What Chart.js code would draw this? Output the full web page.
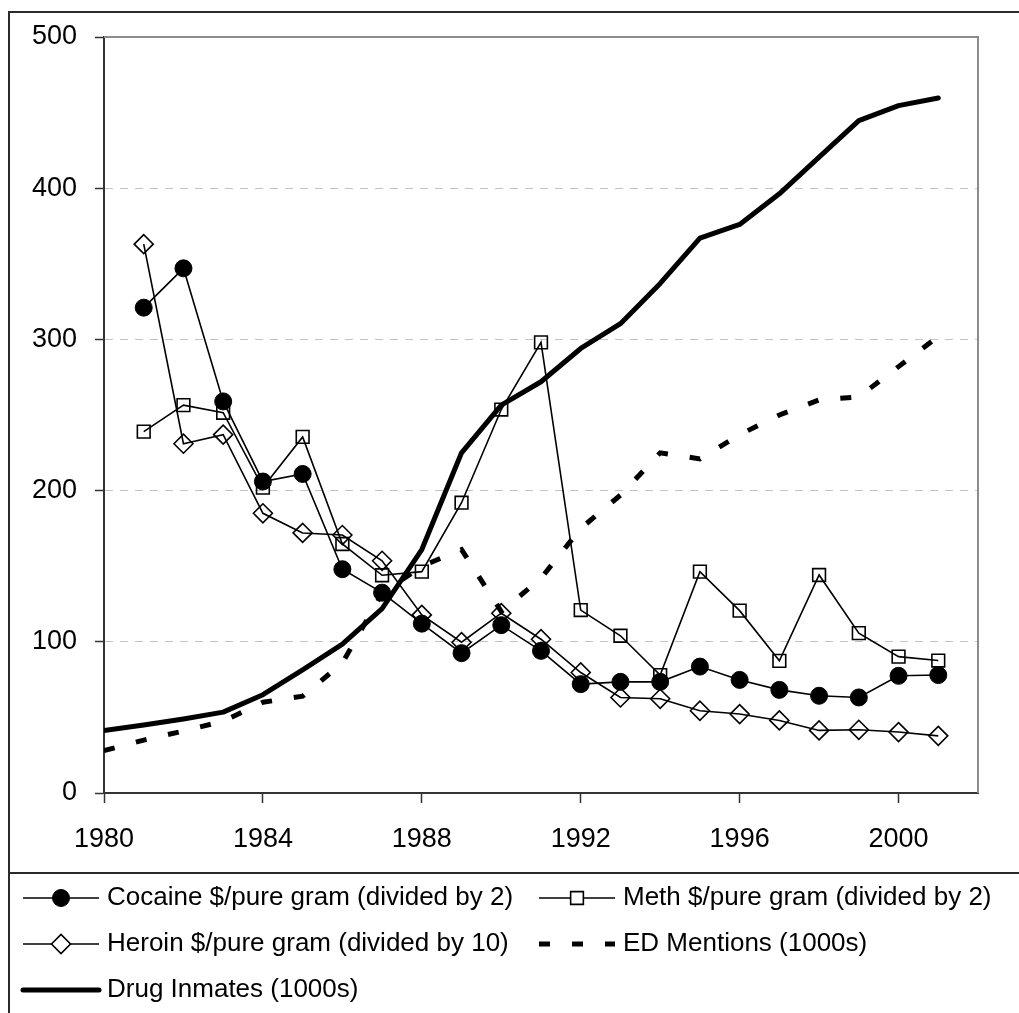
<!DOCTYPE html>
<html>
<head>
<meta charset="utf-8">
<title>Drug prices, ED mentions and inmates</title>
<script src="https://cdn.jsdelivr.net/npm/chart.js@4.4.1/dist/chart.umd.min.js"></script>
<style>
  html, body { margin: 0; padding: 0; background: #fff; }
  #wrap { width: 1019px; height: 1013px; position: relative; }
</style>
</head>
<body>
<div id="wrap"><canvas id="chart"></canvas></div>
<script>
// values
const years = [1980, 1981, 1982, 1983, 1984, 1985, 1986, 1987, 1988, 1989, 1990,
               1991, 1992, 1993, 1994, 1995, 1996, 1997, 1998, 1999, 2000, 2001];
const cocaine = [null, 321, 347, 259, 206, 211, 148, 132.5, 112, 92.5, 111,
                 94, 72, 73.5, 73.5, 83.6, 74.8, 68.2, 64.3, 63.2, 77.5, 78];
const meth = [null, 239, 256.5, 251.5, 202, 235.5, 164.7, 144, 146.4, 192, 253.6,
              298, 121, 104, 78, 146.4, 120.6, 87.4, 144.2, 105.7, 90.2, 87.6];
const heroin = [null, 363, 231, 237, 185, 172, 170.6, 153.6, 117.8, 99.7, 118.9,
                101.7, 79.7, 63.2, 62.3, 54.4, 52.2, 48, 41.4, 41.8, 40.3, 37.8];
const edMentions = [28, 35, 41, 47.5, 60, 64, 86, 132, 150, 161, 120,
                    142, 175, 197, 225, 221, 237, 250, 260, 262, 282, 302];
const inmates = [41.4, 45, 49, 53.5, 65, 81.4, 98.4, 122, 161, 225, 256.5,
                 272, 294, 310.4, 337, 367, 376, 396.3, 420.5, 444.7, 454.6, 459.7];
const xTickYears = [1980, 1984, 1988, 1992, 1996, 2000];

const FONT = '"Liberation Sans", Arial, sans-serif';

function toPoints(values) {
    return years.map((yr, i) => ({ x: yr, y: values[i] }));
}

// marker drawing used by the legend (same shapes as the plot)
function drawMarker(ctx, ds, x, y) {
    const r = ds.pointRadius;
    ctx.lineWidth = ds.pointBorderWidth;
    ctx.strokeStyle = ds.pointBorderColor;
    ctx.fillStyle = ds.pointStyle === 'circle' ? ds.pointBackgroundColor : '#fff';
    ctx.beginPath();
    if (ds.pointStyle === 'circle') {
        ctx.arc(x, y, r, 0, Math.PI * 2);
    } else if (ds.pointStyle === 'rect') {
        const s = r * Math.SQRT1_2;
        ctx.rect(x - s, y - s, 2 * s, 2 * s);
    } else {
        ctx.moveTo(x - r, y);
        ctx.lineTo(x, y - r);
        ctx.lineTo(x + r, y);
        ctx.lineTo(x, y + r);
        ctx.closePath();
    }
    ctx.fill();
    ctx.stroke();
}

// frame, plot border and the two-column legend box
const framePlugin = {
    id: 'frame',
    beforeDatasetsDraw(chart) {
        const { ctx, chartArea: a } = chart;
        ctx.save();
        ctx.strokeStyle = '#8c8c8c';
        ctx.lineWidth = 2;
        ctx.beginPath();
        ctx.moveTo(a.left, a.top);
        ctx.lineTo(a.right, a.top);
        ctx.lineTo(a.right, a.bottom);
        ctx.stroke();
        ctx.restore();
    },
    afterDraw(chart) {
        const ctx = chart.ctx;
        ctx.save();
        ctx.strokeStyle = '#2b2b2b';
        ctx.lineWidth = 2;
        ctx.beginPath();
        ctx.moveTo(1019, 12);
        ctx.lineTo(9, 12);
        ctx.lineTo(9, 1013);
        ctx.moveTo(9, 873);
        ctx.lineTo(1019, 873);
        ctx.stroke();

        const slots = [[23, 898], [539, 898], [23, 944], [539, 944], [23, 990]];
        chart.data.datasets.forEach((ds, i) => {
            const [x, y] = slots[i];
            ctx.save();
            ctx.strokeStyle = ds.borderColor;
            ctx.lineWidth = ds.borderWidth;
            ctx.lineCap = ds.borderCapStyle || 'butt';
            ctx.setLineDash(ds.borderDash || []);
            ctx.beginPath();
            ctx.moveTo(x, y);
            ctx.lineTo(x + 76, y);
            ctx.stroke();
            ctx.setLineDash([]);
            if (ds.pointRadius > 0) drawMarker(ctx, ds, x + 38, y);
            ctx.fillStyle = '#000';
            ctx.font = '26px ' + FONT;
            ctx.textBaseline = 'middle';
            ctx.textAlign = 'left';
            ctx.fillText(ds.label, x + 84, y);
            ctx.restore();
        });
        ctx.restore();
    }
};

const thin = {
    borderColor: '#000',
    borderWidth: 1.6,
    pointBorderColor: '#000',
    pointBorderWidth: 1.6,
    pointBackgroundColor: 'rgba(0,0,0,0)',
    tension: 0,
    spanGaps: false,
};

new Chart(document.getElementById('chart'), {
    type: 'line',
    data: {
        datasets: [
            {
                ...thin,
                label: 'Cocaine $/pure gram (divided by 2)',
                data: toPoints(cocaine),
                pointStyle: 'circle',
                pointRadius: 8.5,
                pointBorderWidth: 1,
                pointBackgroundColor: '#000',
            },
            {
                ...thin,
                label: 'Meth $/pure gram (divided by 2)',
                data: toPoints(meth),
                pointStyle: 'rect',
                pointRadius: 9,
            },
            {
                ...thin,
                label: 'Heroin $/pure gram (divided by 10)',
                data: toPoints(heroin),
                pointStyle: 'rectRot',
                pointRadius: 9.5,
            },
            {
                label: 'ED Mentions (1000s)',
                data: toPoints(edMentions),
                borderColor: '#000',
                borderWidth: 5,
                borderDash: [11, 22],
                borderCapStyle: 'butt',
                pointRadius: 0,
                tension: 0,
            },
            {
                label: 'Drug Inmates (1000s)',
                data: toPoints(inmates),
                borderColor: '#000',
                borderWidth: 5,
                borderCapStyle: 'round',
                borderJoinStyle: 'round',
                pointRadius: 0,
                tension: 0,
            },
        ],
    },
    options: {
        responsive: true,
        maintainAspectRatio: false,
        animation: false,
        events: [],
        layout: { padding: { left: 0, top: 37, right: 41, bottom: 0 } },
        plugins: {
            legend: { display: false },
            tooltip: { enabled: false },
        },
        scales: {
            x: {
                type: 'linear',
                min: 1980,
                max: 2002,
                afterBuildTicks: (scale) => {
                    scale.ticks = xTickYears.map(v => ({ value: v }));
                },
                afterFit: (scale) => { scale.height = 220; },
                grid: {
                    drawOnChartArea: false,
                    drawTicks: true,
                    tickLength: 10,
                    tickColor: '#333',
                    tickWidth: 1.5,
                },
                border: { color: '#333', width: 2 },
                ticks: {
                    color: '#000',
                    font: { family: FONT, size: 27 },
                    padding: 20,
                    maxRotation: 0,
                    callback: (v) => String(v),
                },
            },
            y: {
                min: 0,
                max: 500,
                afterFit: (scale) => { scale.width = 104; },
                grid: {
                    color: (c) => (c.tick && (c.tick.value === 0 || c.tick.value === 500))
                        ? 'rgba(0,0,0,0)' : '#c4c4c4',
                    lineWidth: 1,
                    tickLength: 9,
                    tickColor: '#333',
                    tickWidth: 1.5,
                    tickBorderDash: [],
                },
                border: { color: '#333', width: 2, dash: [8, 7] },
                ticks: {
                    stepSize: 100,
                    color: '#000',
                    font: { family: FONT, size: 27 },
                    padding: 18,
                },
            },
        },
    },
    plugins: [framePlugin],
});
</script>
</body>
</html>
